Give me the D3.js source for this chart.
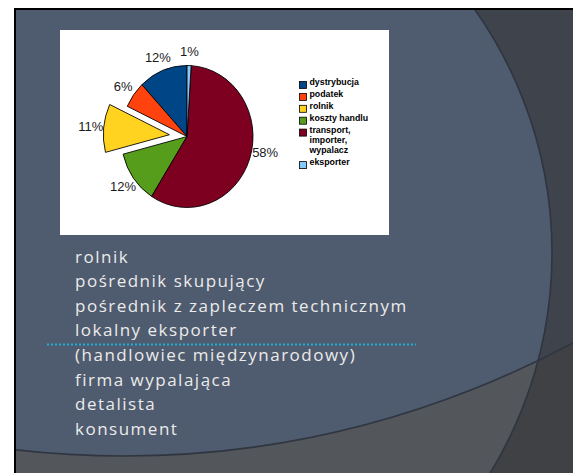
<!DOCTYPE html>
<html>
<head>
<meta charset="utf-8">
<script src="https://cdn.jsdelivr.net/npm/d3@7"></script>
<style>
  body { margin: 0; background: #fff; }
  svg { display: block; }
</style>
</head>
<body>
<div id="slide"></div>
<script>
// Pie data, in legend order (drawn counter-clockwise from 12 o'clock).
const categories = ['dystrybucja', 'podatek', 'rolnik', 'koszty handlu', 'transport, importer, wypalacz', 'eksporter'];
const shares = [12, 6, 11, 12, 58, 1];
const legend_lines = [['dystrybucja'], ['podatek'], ['rolnik'], ['koszty handlu'], ['transport,', 'importer,', 'wypalacz'], ['eksporter']];
const slice_colors = ['#004586', '#ff420e', '#ffd320', '#579d1c', '#7e0021', '#83caff'];
const exploded = 'rolnik';

// The value chain listed under the chart.
const chain = ['rolnik', 'pośrednik skupujący', 'pośrednik z zapleczem technicznym', 'lokalny eksporter',
  '(handlowiec międzynarodowy)', 'firma wypalająca', 'detalista', 'konsument'];
const divider_after = 4;

const W = 573, H = 473;
const slide_x = 16, slide_y = 10;

const svg = d3.select('#slide').append('svg')
  .attr('width', W)
  .attr('height', H);

svg.append('rect').attr('width', W).attr('height', H).attr('fill', '#fff');
svg.append('rect')
  .attr('x', slide_x - 2).attr('y', slide_y - 2)
  .attr('width', W).attr('height', H)
  .attr('fill', '#000');

// Background shapes of the slide theme.
const big = { cx: 130, cy: 253, r: 422 };
const low = { cx: 124, cy: -490, r: 946 };
function circle_path(c){
  return 'M' + (c.cx - c.r) + ',' + c.cy +
    'a' + c.r + ',' + c.r + ' 0 1,0 ' + (2 * c.r) + ',0' +
    'a' + c.r + ',' + c.r + ' 0 1,0 ' + (-2 * c.r) + ',0Z';
}

const defs = svg.append('defs');
defs.append('clipPath').attr('id', 'slide-clip')
  .append('rect')
    .attr('x', slide_x).attr('y', slide_y)
    .attr('width', W - slide_x).attr('height', H - slide_y);
defs.append('clipPath').attr('id', 'below-clip')
  .append('path')
    .attr('clip-rule', 'evenodd')
    .attr('d', 'M0,0H' + W + 'V' + H + 'H0Z' + circle_path(low));

const bg = svg.append('g').attr('clip-path', 'url(#slide-clip)');
bg.append('rect')
  .attr('x', slide_x).attr('y', slide_y)
  .attr('width', W).attr('height', H)
  .attr('fill', '#3e434c');
bg.append('circle')
  .attr('cx', big.cx).attr('cy', big.cy).attr('r', big.r)
  .attr('fill', '#4f5b6e');
const below = bg.append('g').attr('clip-path', 'url(#below-clip)');
below.append('rect').attr('width', W).attr('height', H).attr('fill', '#404145');
below.append('circle')
  .attr('cx', big.cx).attr('cy', big.cy).attr('r', big.r)
  .attr('fill', '#53565b');
bg.selectAll('circle.edge')
  .data([big, low])
  .enter().append('circle')
    .attr('class', 'edge')
    .attr('cx', d => d.cx).attr('cy', d => d.cy).attr('r', d => d.r)
    .attr('fill', 'none')
    .attr('stroke', '#2f3641')
    .attr('stroke-width', 1.6);

// White chart area.
svg.append('rect')
  .attr('x', 60).attr('y', 30)
  .attr('width', 329).attr('height', 205)
  .attr('fill', '#fff');

// Pie.
const pie_cx = 187, pie_cy = 136.5, radius = 71, squash = 66 / 71, explode_by = 19;
const pie = d3.pie().sort(null).startAngle(0).endAngle(-2 * Math.PI);
const arcs = pie(shares);
const arc = d3.arc().innerRadius(0).outerRadius(radius);

function mid_angle(d){ return ( d.startAngle + d.endAngle ) / 2; }
function push_out(d){ return categories[d.index] == exploded ? explode_by : 0; }

const pie_g = svg.append('g')
  .attr('transform', 'translate(' + pie_cx + ',' + pie_cy + ') scale(' + squash + ',1)');
pie_g.selectAll('path')
  .data(arcs)
  .enter().append('path')
    .attr('d', arc)
    .attr('transform', function(d){
      const a = mid_angle(d), o = push_out(d);
      return 'translate(' + ( Math.sin(a) * o ) + ',' + ( -Math.cos(a) * o ) + ')';
    })
    .attr('fill', d => slice_colors[d.index])
    .attr('stroke', '#000')
    .attr('stroke-width', 0.9)
    .attr('stroke-linejoin', 'round');

// Labels sit just outside the rim; the big slice's label is lifted a little, as in the original.
const label_r = 85;
svg.append('g').selectAll('text')
  .data(arcs)
  .enter().append('text')
    .attr('x', d => pie_cx + squash * ( label_r + push_out(d) ) * Math.sin(mid_angle(d)))
    .attr('y', d => pie_cy - ( label_r + push_out(d) ) * Math.cos(mid_angle(d)) - ( d.data > 50 ? 10 : 0 ))
    .attr('dx', d => d.data > 50 ? 3 : 0)
    .attr('dy', '0.35em')
    .attr('text-anchor', 'middle')
    .attr('style', 'font: 13px "Liberation Sans", Arial, sans-serif; fill: #1a1a1a;')
    .text(d => d.data + '%');

// Legend.
const legend_x = 299.5, legend_top = 85, item_step = 11.9, line_step = 10.3;
let row_y = legend_top;
const legend_rows = legend_lines.map(function(lines){
  const y = row_y;
  row_y += item_step + ( lines.length - 1 ) * line_step;
  return { lines: lines, y: y };
});
const legend = svg.append('g');
legend.selectAll('rect')
  .data(legend_rows)
  .enter().append('rect')
    .attr('x', legend_x)
    .attr('y', d => d.y - 3.5)
    .attr('width', 7).attr('height', 7)
    .attr('fill', (d, i) => slice_colors[i])
    .attr('stroke', '#000')
    .attr('stroke-width', 0.8);
legend.selectAll('text')
  .data(legend_rows)
  .enter().append('text')
    .attr('x', legend_x + 10)
    .attr('y', d => d.y)
    .attr('dy', '0.35em')
    .attr('style', 'font: bold 8.8px "Liberation Sans", Arial, sans-serif; fill: #000;')
    .selectAll('tspan')
    .data(d => d.lines)
    .enter().append('tspan')
      .attr('x', legend_x + 10)
      .attr('dy', (d, i) => i ? line_step : 0)
      .text(d => d);

// Value chain list.
const list_x = 75, list_top = 262.5, list_step = 24.6;
svg.append('g').selectAll('text')
  .data(chain)
  .enter().append('text')
    .attr('x', list_x)
    .attr('y', (d, i) => list_top + i * list_step)
    .attr('style', 'font: 17px "Open Sans", sans-serif; letter-spacing: 1.5px; fill: #ebebeb;')
    .text(d => d);

svg.append('line')
  .attr('x1', 47).attr('x2', 416)
  .attr('y1', list_top + ( divider_after - 0.67 ) * list_step)
  .attr('y2', list_top + ( divider_after - 0.67 ) * list_step)
  .attr('stroke', '#1eb0d8')
  .attr('stroke-width', 2)
  .attr('stroke-dasharray', '2,2');
</script>
</body>
</html>
